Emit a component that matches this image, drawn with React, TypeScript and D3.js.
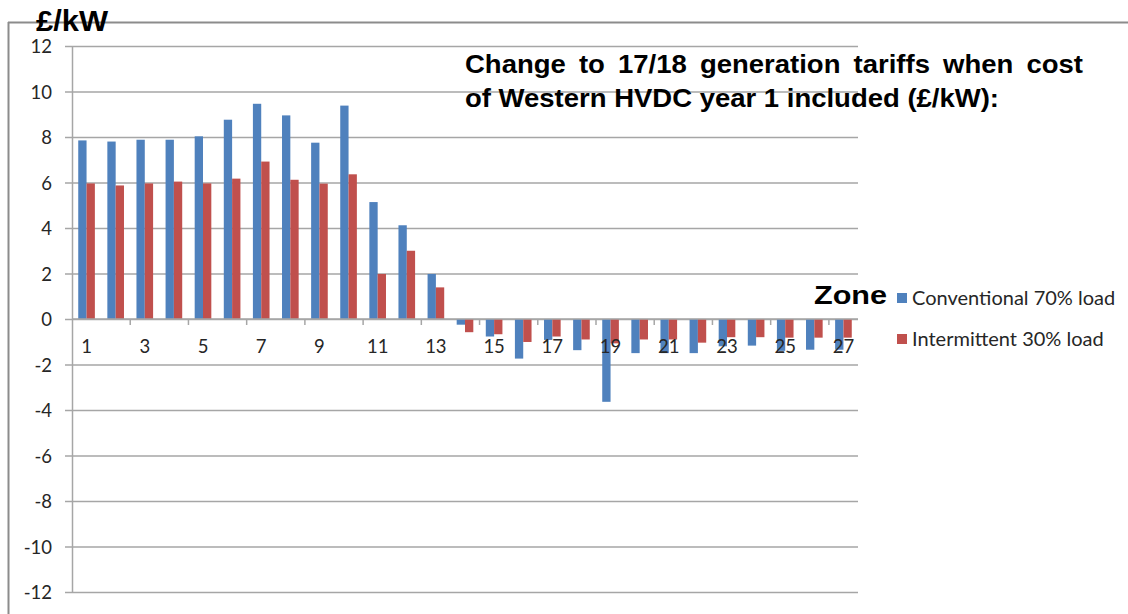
import React, { useEffect, useRef } from 'react';
import * as d3 from 'd3';

// Zones 1..27 and the change to generation tariffs (£/kW)
const zones = [1, 2, 3, 4, 5, 6, 7, 8, 9, 10, 11, 12, 13, 14, 15, 16, 17, 18, 19, 20, 21, 22, 23, 24, 25, 26, 27];
const conventional = [
  7.85, 7.8, 7.88, 7.88, 8.03, 8.76, 9.46, 8.95, 7.75, 9.38, 5.14, 4.12, 1.98, -0.25, -0.77, -1.74, -0.92, -1.37,
  -3.64, -1.5, -1.5, -1.5, -1.2, -1.17, -1.4, -1.35, -1.35,
];
const intermittent = [
  5.96, 5.87, 5.96, 6.04, 5.96, 6.17, 6.92, 6.12, 5.95, 6.36, 1.98, 3.0, 1.39, -0.58, -0.67, -1.01, -0.77, -0.9,
  -1.07, -0.9, -0.9, -1.04, -0.8, -0.8, -0.82, -0.82, -0.82,
];
const yTicks = [-12, -10, -8, -6, -4, -2, 0, 2, 4, 6, 8, 10, 12];
const xLabels = [1, 3, 5, 7, 9, 11, 13, 15, 17, 19, 21, 23, 25, 27];
const seriesNames = ['Conventional 70% load', 'Intermittent 30% load'];
const seriesColors = ['#4F81BD', '#C0504D'];
const titleLines = ['Change to 17/18 generation tariffs when cost', 'of Western HVDC year 1 included (£/kW):'];

const App = () => {
  const svgRef = useRef<SVGSVGElement>(null);

  useEffect(() => {
    document.body.style.margin = '0';
    const svg = d3.select(svgRef.current);
    svg.selectAll('*').remove(); // Clear existing content

    const left = 72;
    const right = 858;
    const top = 46;
    const bottom = 592;
    const font = "Lato, 'Open Sans', sans-serif";
    const gridColor = '#a6a6a6';

    const x = d3.scaleBand<number>().domain(zones).range([left, right]).paddingInner(0).paddingOuter(0);
    const y = d3.scaleLinear().domain([-12, 12]).range([bottom, top]);

    // bars: gap width 150% -> band = 3.5 bar widths
    const barW = x.bandwidth() / 3.5;
    const groupOffset = (x.bandwidth() - 2 * barW) / 2;

    // outer frame
    svg.append('line').attr('x1', 8).attr('x2', 1128).attr('y1', 22.5).attr('y2', 22.5).attr('stroke', '#8c8c8c').attr('stroke-width', 2);
    svg.append('line').attr('x1', 8.5).attr('x2', 8.5).attr('y1', 22).attr('y2', 614).attr('stroke', '#8c8c8c').attr('stroke-width', 2);

    // y axis with gridlines
    const yAxis = svg
      .append('g')
      .attr('transform', `translate(${left},0)`)
      .call(
        d3
          .axisLeft(y)
          .tickValues(yTicks)
          .tickSizeInner(-(right - left))
          .tickSizeOuter(0)
          .tickPadding(20)
          .tickFormat((d) => String(d))
      );
    yAxis.select('.domain').attr('stroke', gridColor).attr('stroke-width', 1.5);
    yAxis.selectAll('.tick line').attr('x1', -7).attr('stroke', gridColor).attr('stroke-width', 1.5);
    yAxis
      .selectAll('.tick text')
      .attr('font-family', font)
      .attr('font-size', 18.5)
      .attr('fill', '#262626')
      .attr('dy', '0.36em');

    // bars
    const rows = zones.map((z, i) => ({ zone: z, values: [conventional[i], intermittent[i]] }));
    const groups = svg
      .append('g')
      .selectAll('g')
      .data(rows)
      .enter()
      .append('g')
      .attr('transform', (d) => `translate(${(x(d.zone) as number) + groupOffset},0)`);
    groups
      .selectAll('rect')
      .data((d) => d.values)
      .enter()
      .append('rect')
      .attr('x', (d, i) => i * barW)
      .attr('y', (d) => y(Math.max(0, d)))
      .attr('width', barW)
      .attr('height', (d) => Math.abs(y(d) - y(0)))
      .attr('fill', (d, i) => seriesColors[i]);

    // x axis at zero: ticks every two zones, labels on odd zones
    svg
      .append('line')
      .attr('x1', left)
      .attr('x2', right)
      .attr('y1', y(0))
      .attr('y2', y(0))
      .attr('stroke', gridColor)
      .attr('stroke-width', 1.5);
    svg
      .append('g')
      .selectAll('line')
      .data(zones.filter((z) => z % 2 === 0 && z < 27))
      .enter()
      .append('line')
      .attr('x1', (d) => (x(d) as number) + x.bandwidth())
      .attr('x2', (d) => (x(d) as number) + x.bandwidth())
      .attr('y1', y(0))
      .attr('y2', y(0) + 6)
      .attr('stroke', gridColor)
      .attr('stroke-width', 1.5);
    svg
      .append('g')
      .selectAll('text')
      .data(xLabels)
      .enter()
      .append('text')
      .attr('x', (d) => (x(d) as number) + x.bandwidth() / 2)
      .attr('y', y(0) + 34)
      .attr('text-anchor', 'middle')
      .attr('font-family', font)
      .attr('font-size', 18.5)
      .attr('fill', '#262626')
      .text((d) => d);

    // unit label
    svg
      .append('text')
      .attr('x', 36)
      .attr('y', 31)
      .attr('font-family', "'Liberation Sans', Arial, sans-serif")
      .attr('font-weight', 'bold')
      .attr('font-size', 29)
      .attr('textLength', 72)
      .attr('lengthAdjust', 'spacingAndGlyphs')
      .text('£/kW');

    // legend
    svg
      .append('text')
      .attr('x', 814)
      .attr('y', 304)
      .attr('font-family', "'Liberation Sans', Arial, sans-serif")
      .attr('font-weight', 'bold')
      .attr('font-size', 26)
      .attr('textLength', 73)
      .attr('lengthAdjust', 'spacingAndGlyphs')
      .text('Zone');
    const legend = svg
      .append('g')
      .selectAll('g')
      .data(seriesNames)
      .enter()
      .append('g')
      .attr('transform', (d, i) => `translate(897,${298 + i * 41})`);
    legend
      .append('rect')
      .attr('x', 0)
      .attr('y', -5)
      .attr('width', 10)
      .attr('height', 10)
      .attr('fill', (d, i) => seriesColors[i]);
    legend
      .append('text')
      .attr('x', 15)
      .attr('y', 0)
      .attr('dy', '0.36em')
      .attr('font-family', font)
      .attr('font-size', 20)
      .attr('fill', '#262626')
      .text((d) => d);

    // title: first line justified, second line left aligned
    const titleFont = "'Liberation Sans', Arial, sans-serif";
    const titleX0 = 465;
    const titleX1 = 1083;
    const line2Width = 534;
    const line2 = svg
      .append('text')
      .attr('x', titleX0)
      .attr('y', 107)
      .attr('font-family', titleFont)
      .attr('font-weight', 'bold')
      .attr('font-size', 25)
      .text(titleLines[1]);
    const stretch = line2Width / (line2.node() as SVGTextElement).getComputedTextLength();
    line2.attr('textLength', line2Width).attr('lengthAdjust', 'spacingAndGlyphs');

    const words = titleLines[0].split(' ');
    const wordNodes = words.map((w) =>
      svg
        .append('text')
        .attr('y', 73)
        .attr('font-family', titleFont)
        .attr('font-weight', 'bold')
        .attr('font-size', 25)
        .text(w)
    );
    const widths = wordNodes.map((n) => (n.node() as SVGTextElement).getComputedTextLength() * stretch);
    const gap = (titleX1 - titleX0 - d3.sum(widths)) / (words.length - 1);
    let cx = titleX0;
    wordNodes.forEach((n, i) => {
      n.attr('x', cx).attr('textLength', widths[i]).attr('lengthAdjust', 'spacingAndGlyphs');
      cx += widths[i] + gap;
    });
  }, []);

  return <svg ref={svgRef} width={1128} height={614} style={{ display: 'block', background: '#fff' }} />;
};

export default App;
